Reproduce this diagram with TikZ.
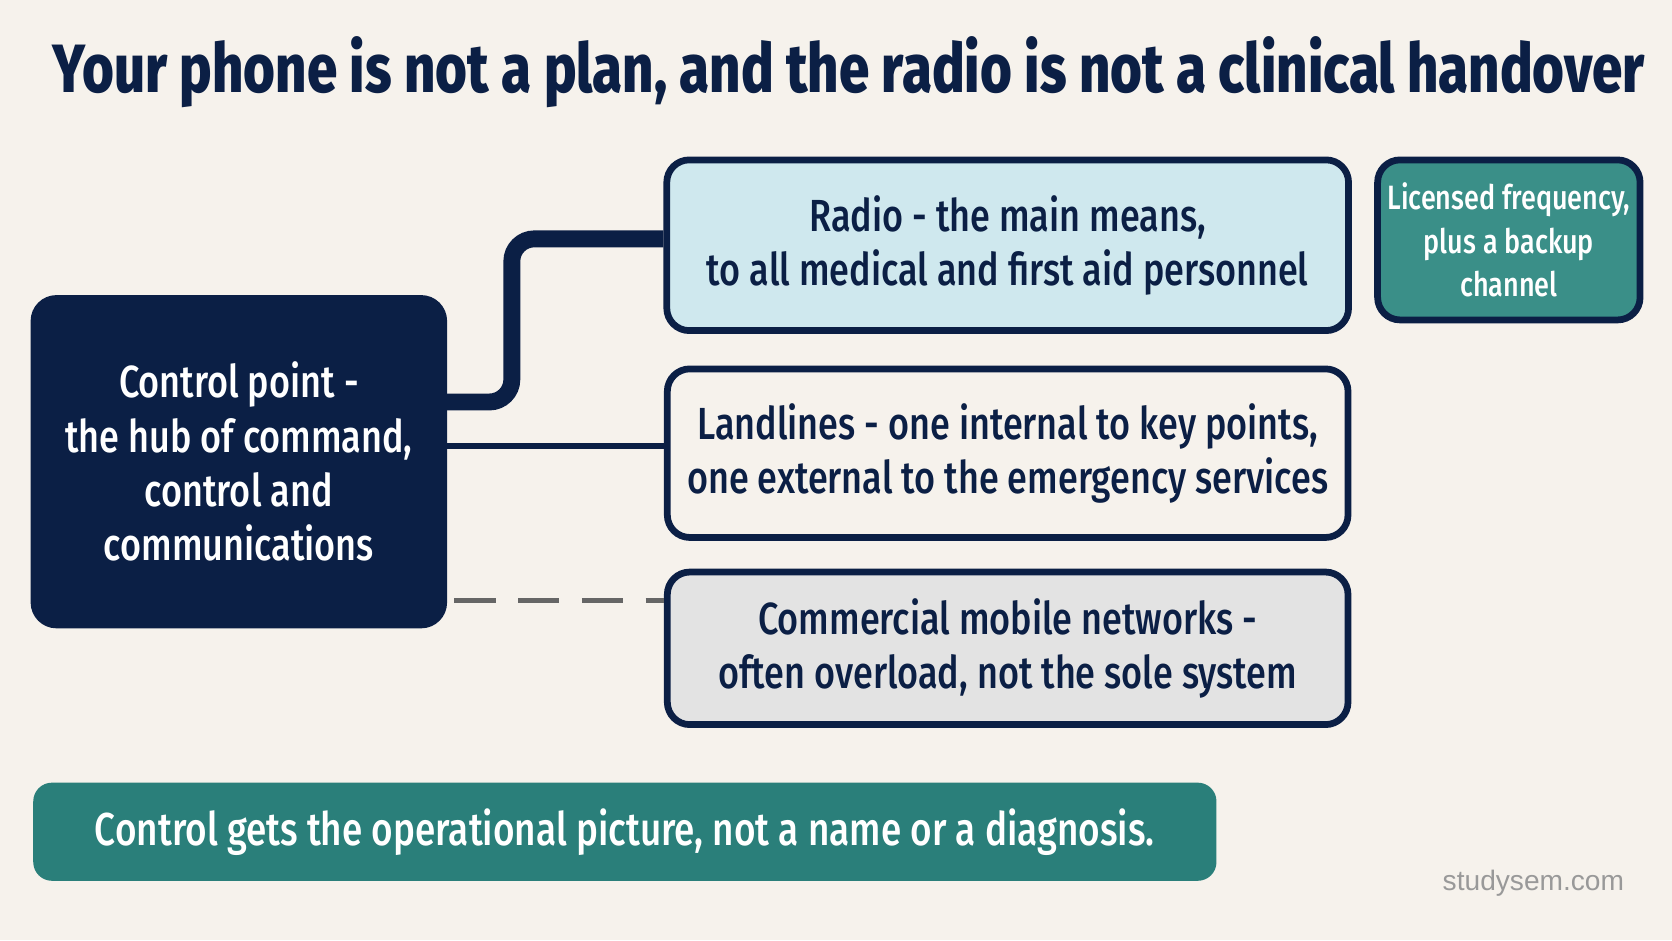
\documentclass[tikz,border=0pt]{standalone}
\usepackage{fontspec}
\setmainfont{Fira Sans Medium}[FakeStretch=0.8]
\usetikzlibrary{positioning}
\definecolor{navy}{HTML}{0B1F45}
\definecolor{paper}{HTML}{F6F2EC}
\definecolor{skyfill}{HTML}{CFE8EE}
\definecolor{tealA}{HTML}{3A8F88}
\definecolor{tealB}{HTML}{2A7F7A}
\definecolor{greyfill}{HTML}{E3E3E3}
\tikzset{
  box/.style={draw=navy, line width=1.8pt, rounded corners=6pt, align=center,
    text=navy, font=\fontsize{12}{14.5}\selectfont, inner sep=0pt},
}
\begin{document}
\begin{tikzpicture}[x=0.01cm, y=-0.01cm]
    \fill[paper] (0,0) rectangle (1568,882);
    \useasboundingbox (0,0) rectangle (1568,882);

    \node[text=navy, font=\fontsize{18.2}{22}\bfseries\selectfont] (title) at (796,68)
        {Your phone is not a plan, and the radio is not a clinical handover};

    \node[box, fill=navy, text=white, minimum width=3.84cm, minimum height=3.06cm]
        (ctrl) at (224,433) {Control point -\\the hub of command,\\control and\\communications};
    \node[box, fill=skyfill, minimum width=6.39cm, minimum height=1.6cm]
        (radio) at (945,230) {Radio - the main means,\\to all medical and first aid personnel};
    \node[box, fill=tealA, text=white, minimum width=2.46cm, minimum height=1.5cm,
        font=\fontsize{9}{11.5}\selectfont]
        (lic) at (1415,225) {Licensed frequency,\\plus a backup\\channel};
    \node[box, fill=paper, minimum width=6.38cm, minimum height=1.58cm]
        (land) at (945,425) {Landlines - one internal to key points,\\one external to the emergency services};
    \node[box, fill=greyfill, minimum width=6.38cm, minimum height=1.43cm]
        (mob) at (945,608) {Commercial mobile networks -\\often overload, not the sole system};
    \node[fill=tealB, text=white, rounded corners=5pt, minimum width=11.09cm,
        minimum height=0.92cm, font=\fontsize{12.3}{15}\selectfont]
        (note) at (586,780) {Control gets the operational picture, not a name or a diagnosis.};
    \node[text=gray!80, font=\fontspec{Liberation Sans}\fontsize{7.5}{9}\selectfont]
        (site) at (1438,828) {studysem.com};

    \draw[navy, line width=4.5pt, rounded corners=6pt]
        (ctrl.east |- 0,377) -| (480,224) -- (radio.west |- 0,224);
    \draw[navy, line width=1.5pt] (ctrl.east |- 0,418) -- (land.west |- 0,418);
    \draw[gray!80!black, line width=1.5pt, dash pattern=on 11pt off 6pt]
        (426,563) -- (mob.west |- 0,563);
\end{tikzpicture}
\end{document}
